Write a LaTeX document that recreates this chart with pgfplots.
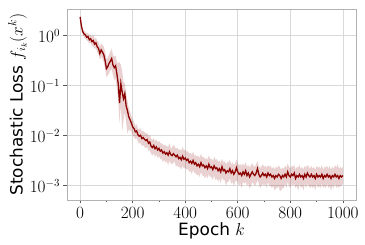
\documentclass[border=0pt]{standalone}
\usepackage{fontspec}
\setmainfont{DejaVu Sans}
\usepackage{pgfplots}
\usepackage{pgfplotstable}
\pgfplotsset{compat=1.18}
\usepgfplotslibrary{fillbetween}
\definecolor{lossred}{HTML}{8B0000}
\pgfplotstableread{
e m l u
0 2.37 2.2 2.5
5 1.55 1.35 1.75
10 1.20 1.05 1.35
15 1.08 0.92 1.25
20 1.04 0.88 1.20
25 0.93 0.80 1.10
30 0.96 0.78 1.15
35 0.83 0.70 1.00
40 0.87 0.72 1.05
45 0.76 0.62 0.95
50 0.80 0.62 1.05
55 0.68 0.55 0.85
60 0.72 0.56 0.92
65 0.60 0.47 0.78
70 0.56 0.42 0.75
75 0.44 0.33 0.60
80 0.52 0.38 0.70
85 0.47 0.34 0.66
90 0.42 0.30 0.60
95 0.32 0.22 0.48
100 0.22 0.15 0.34
105 0.24 0.16 0.36
110 0.28 0.18 0.42
115 0.31 0.20 0.48
120 0.35 0.22 0.55
125 0.26 0.16 0.42
130 0.23 0.13 0.38
135 0.25 0.14 0.40
140 0.17 0.09 0.30
145 0.11 0.05 0.28
150 0.045 0.018 0.30
155 0.11 0.04 0.26
160 0.075 0.012 0.20
165 0.055 0.02 0.12
170 0.07 0.03 0.11
175 0.040 0.018 0.07
180 0.032 0.011 0.05
185 0.024 0.013 0.036
190 0.021 0.013 0.03
195 0.018 0.012 0.025
200 0.015 0.010 0.021
205 0.014 0.0095 0.019
210 0.012 0.0085 0.016
215 0.0125 0.009 0.017
220 0.0105 0.0075 0.014
225 0.0098 0.007 0.0135
230 0.0102 0.0072 0.014
235 0.0088 0.0062 0.012
240 0.0092 0.0065 0.0125
245 0.0085 0.006 0.0118
250 0.0080 0.0056 0.011
255 0.0084 0.006 0.0115
260 0.0071 0.005 0.0098
265 0.0075 0.0052 0.0105
270 0.0062 0.0044 0.0088
275 0.0058 0.004 0.0082
280 0.0064 0.0045 0.009
285 0.0055 0.0038 0.0078
290 0.0060 0.0042 0.0085
295 0.0052 0.0036 0.0074
300 0.0056 0.0039 0.0079
305 0.0049 0.0034 0.0072
310 0.0052 0.0035 0.0070
315 0.0045 0.0030 0.0066
320 0.0048 0.0033 0.0065
325 0.0043 0.0029 0.0064
330 0.0046 0.0031 0.0062
335 0.0041 0.0026 0.0060
340 0.0048 0.0032 0.0071
345 0.0042 0.0028 0.0057
350 0.0040 0.0027 0.0058
355 0.0044 0.0029 0.0066
360 0.0041 0.0030 0.0060
365 0.0038 0.0024 0.0055
370 0.0041 0.0026 0.0058
375 0.0035 0.0023 0.0052
380 0.0037 0.0024 0.0054
385 0.0033 0.0021 0.0050
390 0.0039 0.0025 0.0060
395 0.0034 0.0022 0.0051
400 0.0036 0.0023 0.0053
405 0.0032 0.0021 0.0047
410 0.0034 0.0022 0.0050
415 0.0029 0.0019 0.0044
420 0.0031 0.0020 0.0045
425 0.0028 0.0017 0.0042
430 0.0032 0.0021 0.0048
435 0.0027 0.0018 0.0040
440 0.0029 0.0018 0.0041
445 0.0025 0.0016 0.0038
450 0.0027 0.0017 0.0040
455 0.0024 0.0015 0.0036
460 0.0029 0.0019 0.0044
465 0.0025 0.0016 0.0037
470 0.0026 0.0016 0.0038
475 0.0023 0.0014 0.0034
480 0.0025 0.0016 0.0036
485 0.0022 0.0014 0.0033
490 0.0027 0.0017 0.0041
495 0.0023 0.0015 0.0034
500 0.0024 0.0015 0.0035
505 0.0021 0.0013 0.0031
510 0.0025 0.0016 0.0038
515 0.0022 0.0013 0.0033
520 0.0023 0.0014 0.0034
525 0.0020 0.0012 0.0030
530 0.0022 0.0014 0.0032
535 0.0019 0.0011 0.0029
540 0.0024 0.0015 0.0035
545 0.0020 0.0013 0.0030
550 0.0021 0.0013 0.0031
555 0.0018 0.0010 0.0027
560 0.0020 0.0012 0.0030
565 0.0019 0.0012 0.0029
570 0.0022 0.0014 0.0033
575 0.0018 0.0011 0.0027
580 0.0020 0.0012 0.0029
585 0.0017 0.0010 0.0026
590 0.0019 0.0012 0.0028
595 0.0023 0.0013 0.0034
600 0.0019 0.0012 0.0028
605 0.0017 0.0010 0.0026
610 0.0018 0.0011 0.0027
615 0.0016 0.0009 0.0025
620 0.0019 0.0012 0.0028
625 0.0017 0.0011 0.0025
630 0.0020 0.0012 0.0030
635 0.0016 0.0010 0.0024
640 0.0018 0.0011 0.0026
645 0.0015 0.0009 0.0023
650 0.0017 0.0010 0.0026
655 0.0019 0.0012 0.0028
660 0.0017 0.0011 0.0025
665 0.0016 0.0010 0.0024
670 0.0018 0.0011 0.0027
675 0.0022 0.0013 0.0031
680 0.0017 0.0011 0.0025
685 0.0015 0.0009 0.0023
690 0.0016 0.0010 0.0024
695 0.0018 0.0011 0.0027
700 0.0016 0.0010 0.0024
705 0.0017 0.0011 0.0025
710 0.0015 0.0009 0.0023
715 0.0018 0.0012 0.0026
720 0.0016 0.0010 0.0024
725 0.0017 0.0010 0.0025
730 0.0015 0.0009 0.0022
735 0.0016 0.0010 0.0024
740 0.0014 0.0008 0.0021
745 0.0016 0.0009 0.0024
750 0.0015 0.0009 0.0023
755 0.0017 0.0010 0.0025
760 0.0016 0.0008 0.0024
765 0.0014 0.0008 0.0021
770 0.0016 0.0009 0.0023
775 0.0015 0.0009 0.0022
780 0.0017 0.0011 0.0025
785 0.0015 0.0009 0.0023
790 0.0019 0.0012 0.0028
795 0.0016 0.0010 0.0024
800 0.0015 0.0009 0.0022
805 0.0017 0.0011 0.0025
810 0.0016 0.0010 0.0024
815 0.0018 0.0011 0.0026
820 0.0014 0.0009 0.0021
825 0.0016 0.0010 0.0024
830 0.0015 0.0008 0.0023
835 0.0017 0.0011 0.0026
840 0.0015 0.0009 0.0022
845 0.0016 0.0010 0.0024
850 0.0014 0.0008 0.0021
855 0.0017 0.0011 0.0025
860 0.0015 0.0009 0.0023
865 0.0018 0.0011 0.0026
870 0.0016 0.0010 0.0024
875 0.0015 0.0009 0.0022
880 0.0017 0.0010 0.0025
885 0.0015 0.0009 0.0022
890 0.0016 0.0010 0.0024
895 0.0014 0.0008 0.0021
900 0.0017 0.0011 0.0025
905 0.0015 0.0009 0.0023
910 0.0016 0.0010 0.0024
915 0.0015 0.0009 0.0022
920 0.0017 0.0011 0.0026
925 0.0014 0.0009 0.0021
930 0.0016 0.0010 0.0024
935 0.0015 0.0009 0.0023
940 0.0017 0.0011 0.0025
945 0.0015 0.0009 0.0022
950 0.0016 0.0010 0.0025
955 0.0014 0.0008 0.0021
960 0.0016 0.0010 0.0024
965 0.0015 0.0009 0.0022
970 0.0017 0.0011 0.0026
975 0.0015 0.0009 0.0023
980 0.0016 0.0010 0.0027
985 0.0014 0.0009 0.0022
990 0.0016 0.0010 0.0024
995 0.0015 0.0010 0.0022
1000 0.0016 0.0011 0.0024
}\lossdata
\begin{document}
\begin{tikzpicture}
\begin{axis}[
  at={(0,0)}, anchor=south west,
  scale only axis, width=289bp, height=191bp,
  ymode=log, log basis y=10,
  xmin=-50, xmax=1050,
  ymin=5.2e-4, ymax=3.42,
  xtick={0,200,400,600,800,1000},
  minor xtick={100,300,500,700,900},
  ytick={1e-3,1e-2,1e-1,1},
  /pgf/number format/set thousands separator={},
  tick align=outside,
  tick pos=left,
  major tick length=3.5bp, minor tick length=2.5bp,
  every tick/.style={gray!70!black, line width=0.6pt},
  axis line style={gray!60, line width=0.7pt},
  grid=major,
  major grid style={gray!30, line width=0.6pt},
  ticklabel style={font=\fontsize{16}{18}\selectfont},
  label style={font=\fontsize{17}{20}\selectfont},
  xlabel={Epoch $k$},
  ylabel={Stochastic Loss $f_{i_k}(x^k)$},
  xlabel style={yshift=2bp},
  ylabel style={yshift=-4bp},
]
\addplot[name path=up, draw=none, forget plot] table[x=e, y=u]{\lossdata};
\addplot[name path=lo, draw=none, forget plot] table[x=e, y=l]{\lossdata};
\addplot[fill=lossred, fill opacity=0.18, draw=none, forget plot] fill between[of=up and lo];
\addplot[lossred, line width=1.3pt] table[x=e, y=m]{\lossdata};
\end{axis}
\pgfresetboundingbox
\path (-67bp,-45bp) rectangle (298bp,200bp);
\end{tikzpicture}
\end{document}
